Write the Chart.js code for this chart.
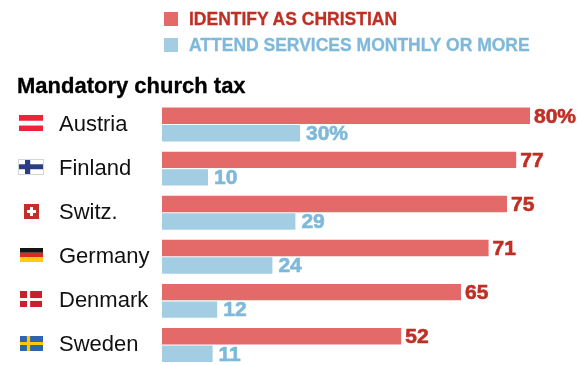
<!DOCTYPE html>
<html>
<head>
<meta charset="utf-8">
<title>Mandatory church tax</title>
<script src="https://cdn.jsdelivr.net/npm/chart.js@4"></script>
<style>
html, body { margin: 0; padding: 0; background: #fff; overflow: hidden; }
#wrap { position: relative; width: 586px; height: 365px; overflow: hidden; }
#chart { position: absolute; left: 0; top: 0; }
#title { position: absolute; left: 17px; top: 73px; font: bold 22px "Liberation Sans", sans-serif; color: #000; white-space: nowrap; -webkit-text-stroke: .3px #000; }
.legend-row { position: absolute; left: 164px; height: 14px; white-space: nowrap; }
.legend-row i { position: absolute; left: 0; top: 0; width: 14px; height: 14px; }
.legend-row span { position: absolute; left: 25px; top: -3px; font: bold 17.5px "Liberation Sans", sans-serif; line-height: 20px; -webkit-text-stroke: .3px; }
</style>
</head>
<body>
<div id="wrap">
  <canvas id="chart" width="586" height="367"></canvas>
  <div id="title">Mandatory church tax</div>
  <div id="legend"></div>
</div>
<script>
var countries = ['Austria', 'Finland', 'Switz.', 'Germany', 'Denmark', 'Sweden'];
var identifyChristian = [80, 77, 75, 71, 65, 52];
var attendMonthly = [30, 10, 29, 24, 12, 11];

var seriesLabels = ['IDENTIFY AS CHRISTIAN', 'ATTEND SERVICES MONTHLY OR MORE'];
var barColors = ['#e46a6a', '#a3cde3'];
var textColors = ['#bf2f24', '#7fb9da'];

// x, y, w, h are fractions of the flag box
var flags = [
  { w: 24, h: 16, rects: [[0, 0, 1, 1, '#fff'], [0, 0, 1, .36, '#ee2339'], [0, .66, 1, .34, '#ee2339']] },
  { w: 26, h: 16, border: '#d4d4d4', rects: [[0, 0, 1, 1, '#fff'], [.27, 0, .2, 1, '#2a3d82'], [0, .33, 1, .31, '#2a3d82']] },
  { w: 15, h: 15, rects: [[0, 0, 1, 1, '#c0302a'], [.4, .2, .2, .6, '#fff'], [.2, .4, .6, .2, '#fff']] },
  { w: 23, h: 14, rects: [[0, 0, 1, .34, '#141414'], [0, .34, 1, .33, '#e12726'], [0, .67, 1, .33, '#fdcf0a']] },
  { w: 22, h: 16, rects: [[0, 0, 1, 1, '#c8202f'], [.32, 0, .14, 1, '#fff'], [0, .44, 1, .18, '#fff']] },
  { w: 23, h: 15, rects: [[0, 0, 1, 1, '#2d66ad'], [.3, 0, .14, 1, '#fdc80c'], [0, .4, 1, .2, '#fdc80c']] }
];

// html legend, filled from the dataset labels
seriesLabels.forEach(function(label, i) {
    var row = document.createElement('div');
    row.className = 'legend-row';
    row.style.top = (12 + i * 26) + 'px';
    row.innerHTML = '<i style="background:' + barColors[i] + '"></i><span style="color:' + textColors[i] + '">' + label + '</span>';
    document.getElementById('legend').appendChild(row);
});

var flagPlugin = {
    id: 'flagPlugin',
    afterDraw: function(chart) {
        var ctx = chart.ctx;
        var yScale = chart.scales.y;
        flags.forEach(function(flag, i) {
            var cx = 31;
            var cy = Math.round(yScale.getPixelForValue(i) - 1.5);
            var left = Math.round(cx - flag.w / 2);
            var top = Math.round(cy - flag.h / 2);
            flag.rects.forEach(function(r) {
                ctx.fillStyle = r[4];
                ctx.fillRect(left + r[0] * flag.w, top + r[1] * flag.h, r[2] * flag.w, r[3] * flag.h);
            });
            if (flag.border) {
                ctx.strokeStyle = flag.border;
                ctx.lineWidth = 1;
                ctx.strokeRect(left + .5, top + .5, flag.w - 1, flag.h - 1);
            }
        });
    }
};

var valueLabels = {
    id: 'valueLabels',
    afterDatasetsDraw: function(chart) {
        var ctx = chart.ctx;
        ctx.save();
        ctx.font = 'bold 21px "Liberation Sans", sans-serif';
        ctx.textAlign = 'left';
        ctx.textBaseline = 'middle';
        ctx.lineWidth = .6;
        chart.data.datasets.forEach(function(ds, d) {
            ctx.fillStyle = textColors[d];
            ctx.strokeStyle = textColors[d];
            var gap = d === 0 ? 4 : 6;
            chart.getDatasetMeta(d).data.forEach(function(bar, i) {
                var text = ds.data[i] + (i === 0 ? '%' : '');
                ctx.fillText(text, bar.x + gap, bar.y + 1);
                ctx.strokeText(text, bar.x + gap, bar.y + 1);
            });
        });
        ctx.restore();
    }
};

var ctx = document.getElementById('chart').getContext('2d');
window.myChart = new Chart(ctx, {
    type: 'bar',
    data: {
        labels: countries,
        datasets: [{
            label: seriesLabels[0],
            data: identifyChristian,
            backgroundColor: barColors[0]
        }, {
            label: seriesLabels[1],
            data: attendMonthly,
            backgroundColor: barColors[1]
        }]
    },
    plugins: [flagPlugin, valueLabels],
    options: {
        indexAxis: 'y',
        responsive: false,
        animation: false,
        events: [],
        categoryPercentage: 0.795,
        barPercentage: 0.94,
        layout: { padding: { left: 59, right: 10, top: 102.5, bottom: 0 } },
        plugins: {
            legend: { display: false },
            title: { display: false },
            tooltip: { enabled: false }
        },
        scales: {
            x: {
                min: 0,
                max: 90,
                display: false
            },
            y: {
                afterFit: function(scale) {
                    scale.width = 103;
                    scale.paddingTop = 0;
                    scale.paddingBottom = 0;
                },
                grid: { display: false, drawBorder: false },
                border: { display: false },
                ticks: {
                    crossAlign: 'far',
                    padding: 0,
                    color: '#111',
                    font: { family: '"Liberation Sans", sans-serif', size: 22 }
                }
            }
        }
    }
});
</script>
</body>
</html>
